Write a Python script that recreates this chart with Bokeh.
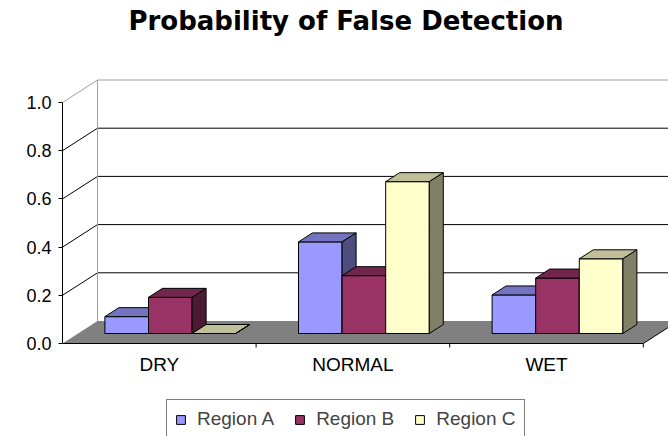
from bokeh.plotting import figure
from bokeh.models import Range1d, FixedTicker, Legend, LegendItem, NumeralTickFormatter
from bokeh.core.properties import value
from bokeh.embed import file_html
from bokeh.resources import INLINE

# ---- data ----
title_text = "Probability of False Detection"
categories = ["DRY", "NORMAL", "WET"]
series_names = ["Region A", "Region B", "Region C"]
region_a = [0.07, 0.38, 0.16]
region_b = [0.15, 0.24, 0.23]
region_c = [0.0, 0.63, 0.31]
y_ticks = [0.0, 0.2, 0.4, 0.6, 0.8, 1.0]

series_values = [region_a, region_b, region_c]

# ---- style ----
front_colors = ["#9999FF", "#993366", "#FFFFCC"]
top_colors = ["#7373BF", "#73264D", "#BFBF99"]
side_colors = ["#4D4D80", "#4D1A33", "#808066"]

PX_X = 193.6   # pixels per category on the front plane
PX_Y = 241.0   # pixels per value unit
DX, DY = 35 / PX_X, 22.5 / PX_Y      # wall depth offset
BDX, BDY = 11 / PX_X, 10 / PX_Y      # bar front plane offset
TDX, TDY = 14 / PX_X, 9 / PX_Y       # bar depth
W = 43.6 / PX_X                      # bar width
n_cat = len(categories)

p = figure(width=668, height=436, output_backend="svg", toolbar_location=None,
           x_range=Range1d(0, 606 / PX_X), y_range=Range1d(-93 / PX_Y, 343 / PX_Y),
           x_axis_location=None,
           min_border_left=62, min_border_right=0, min_border_top=0, min_border_bottom=0)
p.outline_line_color = None
p.grid.visible = False
p.background_fill_color = "white"
p.border_fill_color = "white"

# floor
p.patch([0, n_cat, n_cat + DX, DX], [0, 0, DY, DY], fill_color="#808080", line_color=None)
# back wall gridlines and left wall diagonals
grid_vals = [v for v in y_ticks if v > 0]
grid_colors = ["black" if v < max(y_ticks) else "#A0A0A0" for v in grid_vals]
p.segment(x0=[DX] * len(grid_vals), y0=[DY + v for v in grid_vals],
          x1=[n_cat + DX] * len(grid_vals), y1=[DY + v for v in grid_vals],
          line_color=grid_colors, line_width=1)
p.segment(x0=[0] * len(grid_vals), y0=grid_vals,
          x1=[DX] * len(grid_vals), y1=[DY + v for v in grid_vals],
          line_color=grid_colors, line_width=1)
p.segment(x0=[DX], y0=[DY], x1=[DX], y1=[DY + max(y_ticks)], line_color="#A0A0A0", line_width=1)
# floor front edge, right edge and category ticks
p.segment(x0=[0, n_cat], y0=[0, 0], x1=[n_cat, n_cat + DX], y1=[0, DY], line_color="black", line_width=1)
p.segment(x0=list(range(1, n_cat + 1)), y0=[0] * n_cat, x1=list(range(1, n_cat + 1)),
          y1=[-4 / PX_Y] * n_cat, line_color="black", line_width=1)

# bars
legend_items = []
for j, vals in enumerate(series_values):
    lefts = [i + 0.5 + (j - 1.5) * W + BDX for i in range(n_cat)]
    rights = [x + W for x in lefts]
    bottoms = [BDY] * n_cat
    tops = [BDY + v for v in vals]
    fr = p.quad(left=lefts, right=rights, bottom=bottoms, top=tops,
                fill_color=front_colors[j], line_color="black", line_width=1)
    p.patches(xs=[[l, r, r + TDX, l + TDX] for l, r in zip(lefts, rights)],
              ys=[[t, t, t + TDY, t + TDY] for t in tops],
              fill_color=top_colors[j], line_color="black", line_width=1)
    p.patches(xs=[[r, r + TDX, r + TDX, r] for r in rights],
              ys=[[b, b + TDY, t + TDY, t] for b, t in zip(bottoms, tops)],
              fill_color=side_colors[j], line_color="black", line_width=1)
    legend_items.append(LegendItem(label=series_names[j], renderers=[fr]))

# category labels
p.text(x=[i + 0.5 for i in range(n_cat)], y=[-21 / PX_Y] * n_cat, text=categories,
       text_font=value("Liberation Sans"), text_font_size="19px", text_color="black",
       text_align="center", text_baseline="middle")

# title
p.text(x=[283.5 / PX_X], y=[322.5 / PX_Y], text=[title_text],
       text_font=value("DejaVu Sans"), text_font_style="bold", text_font_size="26px",
       text_color="black", text_align="center", text_baseline="alphabetic")

# value axis
p.yaxis.ticker = FixedTicker(ticks=y_ticks)
p.yaxis.formatter = NumeralTickFormatter(format="0.0")
p.yaxis.bounds = (0, max(y_ticks))
p.yaxis.axis_line_color = "black"
p.yaxis.major_tick_out = 4
p.yaxis.major_tick_in = 0
p.yaxis.minor_tick_line_color = None
p.yaxis.major_label_standoff = 7
p.yaxis.major_label_text_font = "Liberation Sans"
p.yaxis.major_label_text_font_size = "18px"
p.yaxis.major_label_text_color = "black"

# legend
legend = Legend(items=legend_items, orientation="horizontal", location=(104, -3),
                border_line_color="black", border_line_width=1, background_fill_color="white",
                background_fill_alpha=1, padding=8, spacing=20, label_standoff=11,
                glyph_width=11, glyph_height=11, margin=0,
                label_text_font="Liberation Sans", label_text_font_size="19px")
p.add_layout(legend, "center")

open("out.html", "w").write(file_html(p, INLINE))
